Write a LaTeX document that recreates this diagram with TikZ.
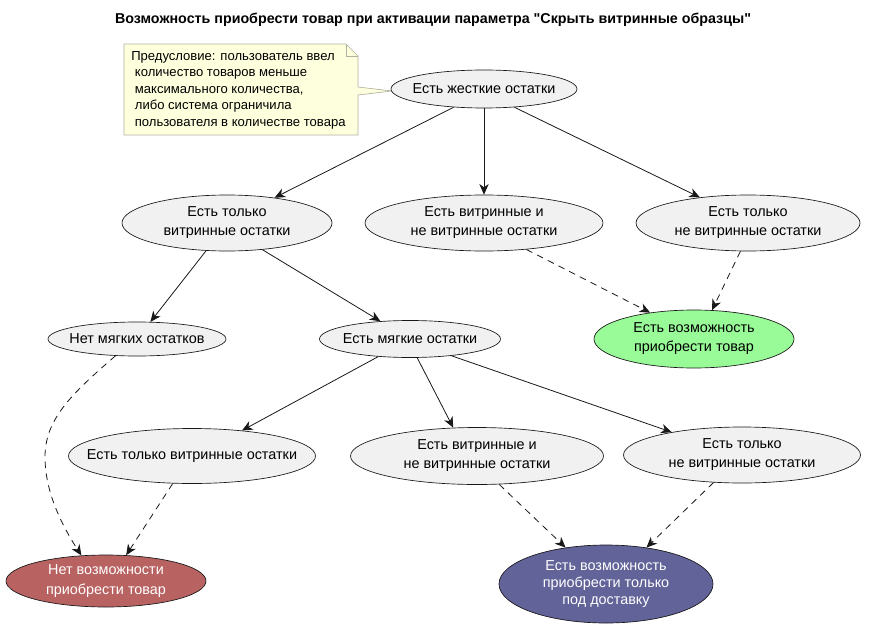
\documentclass[tikz,border=0pt]{standalone}
\usepackage{fontspec}
\setmainfont{Liberation Sans}
\newfontfamily\plainquotes{Liberation Sans}
\usetikzlibrary{shapes.geometric,arrows.meta,calc}
\definecolor{ellfill}{HTML}{F1F1F1}
\definecolor{edge}{HTML}{181818}
\definecolor{okgreen}{HTML}{98FB98}
\definecolor{nored}{HTML}{B86262}
\definecolor{delblue}{HTML}{616399}
\definecolor{notefill}{HTML}{FEFFDD}
\definecolor{noteline}{HTML}{B0B0A0}
\begin{document}
\begin{tikzpicture}[x=0.75pt,y=-0.75pt,
  ell/.style={ellipse,draw=edge,line width=0.5pt,fill=ellfill,inner xsep=-40pt,inner ysep=-10pt,align=center,font=\fontsize{10.8}{14.3}\selectfont},
  solidarr/.style={draw=edge,line width=0.6pt,-{Stealth[length=8pt,width=7pt,inset=2.5pt]}},
  dasharr/.style={solidarr,dash pattern=on 5pt off 4pt}]
\useasboundingbox (0,0) rectangle (880,631);
\node[font=\plainquotes\bfseries\fontsize{10.7}{12}\selectfont] (title) at (433,20) {Возможность приобрести товар при активации параметра "Скрыть витринные образцы"};

% note
\path[draw=noteline,fill=notefill,line width=0.5pt] (124,44) -- (346,44) -- (358,56) -- (358,87) -- (392,91) -- (358,95) -- (358,135) -- (124,135) -- cycle;
\draw[noteline,line width=0.5pt] (346,44) -- (346,56) -- (358,56);
\node[anchor=north west,align=left,inner sep=0pt,font=\fontsize{9.8}{12.4}\selectfont] (note) at (131,51) {Предусловие: пользователь ввел\\ \ количество товаров меньше\\ \ максимального количества,\\ \ либо система ограничила\\ \ пользователя в количестве товара};

\node[ell,minimum width=139.5pt,minimum height=28.5pt] (hard) at (484,89) {Есть жесткие остатки};

\node[ell,minimum width=157.5pt,minimum height=42pt] (onlyv) at (227,223) {Есть только\\витринные остатки};
\node[ell,minimum width=178.5pt,minimum height=42pt] (both) at (484,223) {Есть витринные и\\не витринные остатки};
\node[ell,minimum width=168pt,minimum height=42pt] (onlyn) at (748,223) {Есть только\\не витринные остатки};

\node[ell,minimum width=133.5pt,minimum height=25.5pt] (nosoft) at (137,339) {Нет мягких остатков};
\node[ell,minimum width=135.75pt,minimum height=27.75pt] (soft) at (410,339) {Есть мягкие остатки};
\node[ell,fill=okgreen,minimum width=150pt,minimum height=43.5pt] (yes) at (694,339) {Есть возможность\\приобрести товар};

\node[ell,minimum width=185.25pt,minimum height=41.25pt] (onlyv2) at (192,456) {Есть только витринные остатки};
\node[ell,minimum width=189.75pt,minimum height=42.75pt] (both2) at (477,456) {Есть витринные и\\не витринные остатки};
\node[ell,minimum width=177.75pt,minimum height=42pt] (onlyn2) at (742,455) {Есть только\\не витринные остатки};

\node[ell,fill=nored,text=white,minimum width=150pt,minimum height=39pt] (no) at (106,581) {Нет возможности\\приобрести товар};
\node[ell,fill=delblue,text=white,minimum width=160.5pt,minimum height=58.5pt,font=\fontsize{10.8}{13.1}\selectfont] (deliv) at (606,584) {Есть возможность\\приобрести только\\под доставку};

\coordinate (bend) at (45,457);

% solid arrows
\draw[solidarr] (hard.{-149}) -- (onlyv.{28});
\draw[solidarr] (hard.south) -- (both.north);
\draw[solidarr] (hard.{-31}) -- (onlyn.{152});
\draw[solidarr] (onlyv.{-127}) -- (nosoft.{52});
\draw[solidarr] (onlyv.{-37}) -- (soft.{149});
\draw[solidarr] (soft.{-151}) -- (onlyv2.{27});
\draw[solidarr] (soft.{-69}) -- (both2.{130});
\draw[solidarr] (soft.{-22}) -- (onlyn2.{162});

% dashed arrows
\draw[dasharr] (both.{-32}) -- (yes.{149});
\draw[dasharr] (onlyn.{-105}) -- (yes.{58});
\draw[dasharr] (nosoft.{-142}) .. controls (70,395) and (45,420) .. (bend) .. controls (45,495) and (65,530) .. (no.{134});
\draw[dasharr] (onlyv2.{-125}) -- (no.{52});
\draw[dasharr] (both2.{-52}) -- (deliv.{138});
\draw[dasharr] (onlyn2.{-136}) -- (deliv.{42});
\end{tikzpicture}
\end{document}
